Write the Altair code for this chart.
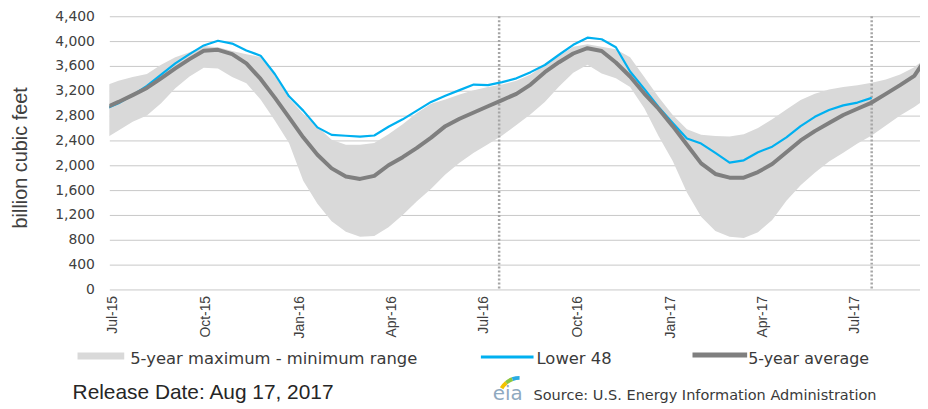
import datetime as dt
import altair as alt
import pandas as pd

# ---------------- data (billion cubic feet) ----------------
SERIES_START = "2015-06-23"      # first sample date of the series below
SERIES_STEP_DAYS = 14            # one sample every two weeks

RANGE_MAX = [3280, 3360, 3420, 3470, 3620, 3740, 3820, 3920, 3900, 3840,
             3790, 3745, 3450, 3080, 2830, 2620, 2410, 2330, 2330, 2360,
             2500, 2660, 2840, 2990, 3060, 3140, 3210, 3260, 3300, 3360,
             3460, 3620, 3760, 3910, 3950, 3910, 3870, 3740, 3420, 3100,
             2810, 2580, 2490, 2470, 2465, 2500, 2600, 2740, 2900, 3050,
             3150, 3220, 3260, 3290, 3330, 3380, 3460, 3580, 3760]

RANGE_MIN = [2420, 2560, 2700, 2800, 3000, 3240, 3430, 3570, 3560, 3420,
             3320, 3060, 2720, 2360, 1750, 1380, 1100, 930, 850, 860,
             1000, 1200, 1420, 1620, 1850, 2040, 2200, 2340, 2480, 2650,
             2820, 3020, 3270, 3490, 3620, 3480, 3400, 3260, 2920, 2470,
             2070, 1560, 1170, 940, 850, 830, 920, 1120, 1430, 1680,
             1880, 2060, 2200, 2350, 2480, 2640, 2800, 2940, 3100]

AVG_5YR = [2920, 3020, 3130, 3245, 3400, 3560, 3710, 3845, 3860, 3790,
           3640, 3390, 3090, 2770, 2450, 2170, 1950, 1820, 1780, 1830,
           2000, 2130, 2280, 2445, 2630, 2750, 2850, 2950, 3050, 3150,
           3300, 3500, 3660, 3800, 3885, 3840, 3655, 3430, 3155, 2910,
           2630, 2330, 2030, 1860, 1800, 1800, 1890, 2020, 2210, 2400,
           2550, 2680, 2810, 2910, 3010, 3150, 3290, 3440, 3780]

LOWER_48 = [2900, 3000, 3130, 3280, 3460, 3640, 3790, 3930, 4005, 3960,
            3850, 3765, 3470, 3110, 2880, 2610, 2490, 2475, 2460, 2480,
            2620, 2740, 2880, 3020, 3120, 3210, 3300, 3290, 3340, 3400,
            3500, 3615, 3780, 3940, 4055, 4030, 3900, 3510, 3230, 2940,
            2680, 2430, 2350, 2200, 2043, 2080, 2210, 2300, 2450, 2630,
            2780, 2890, 2965, 3010, 3085]

MARKER_DATES = ["2016-07-16", "2017-07-18"]          # dotted vertical markers

TICK_DATES = ["2015-07-01", "2015-10-01", "2016-01-01", "2016-04-01", "2016-07-01",
              "2016-10-01", "2017-01-01", "2017-04-01", "2017-07-01"]
TICK_LABELS = ["Jul-15", "Oct-15", "Jan-16", "Apr-16", "Jul-16",
               "Oct-16", "Jan-17", "Apr-17", "Jul-17"]
X_DOMAIN = ["2015-06-28T00:00:00Z", "2017-09-03T14:24:00Z"]
Y_TICKS = [0, 400, 800, 1200, 1600, 2000, 2400, 2800, 3200, 3600, 4000, 4400]

Y_TITLE = "billion cubic feet"
LEGEND_LABELS = ["5-year maximum - minimum range", "Lower 48", "5-year average"]
RELEASE_TEXT = "Release Date:  Aug 17, 2017"
SOURCE_TEXT = "Source:  U.S. Energy  Information Administration"
LOGO_TEXT = "eia"

# ---------------- styles ----------------
BAND_COLOR = "#d9d9d9"
L48_COLOR = "#00b0f0"
AVG_COLOR = "#7f7f7f"
TEXT_COLOR = "#404040"


def to_ms(s):
    d = dt.datetime.fromisoformat(s)
    if d.tzinfo is None:
        d = d.replace(tzinfo=dt.timezone.utc)
    return int(d.timestamp() * 1000)


start = dt.date.fromisoformat(SERIES_START)
dates = [(start + dt.timedelta(days=SERIES_STEP_DAYS * i)).isoformat()
         for i in range(len(RANGE_MAX))]

band_df = pd.DataFrame({"date": dates, "mx": RANGE_MAX, "mn": RANGE_MIN, "avg": AVG_5YR})
l48_df = pd.DataFrame({"date": dates[:len(LOWER_48)], "l48": LOWER_48})
marker_df = pd.DataFrame({"date": MARKER_DATES})

tick_ms = [to_ms(d) for d in TICK_DATES]
label_expr = "[{}][indexof([{}], time(datum.value))]".format(
    ",".join("'{}'".format(t) for t in TICK_LABELS),
    ",".join(str(t) for t in tick_ms))

x_enc = alt.X(
    "date:T",
    scale=alt.Scale(type="utc", domain=[to_ms(X_DOMAIN[0]), to_ms(X_DOMAIN[1])]),
    axis=alt.Axis(values=tick_ms, labelExpr=label_expr, labelAngle=270,
                  labelFont="Liberation Sans", labelFontSize=14, labelColor=TEXT_COLOR,
                  labelPadding=6, ticks=False, tickSize=0, domain=False, grid=False,
                  labelOverlap=False, labelFlush=False, labelBound=False, title=""),
)

y_scale = alt.Scale(domain=[0, 4400], nice=False, zero=True)
y_axis = alt.Axis(values=Y_TICKS, format=",.0f", labelFont="DejaVu Sans", labelFontSize=14,
                  labelColor=TEXT_COLOR, labelPadding=15, ticks=False, tickSize=0,
                  domain=False, grid=True, gridColor="#c8c8c8", gridWidth=1,
                  title=Y_TITLE, titleFont="Liberation Sans", titleFontSize=20,
                  titleFontWeight="normal", titleColor=TEXT_COLOR, titleAngle=270,
                  titleX=-89, titleY=142, titleAlign="center", titleBaseline="middle")

band = alt.Chart(band_df).mark_area(color=BAND_COLOR, clip=True).encode(
    x=x_enc, y=alt.Y("mx:Q", scale=y_scale, axis=y_axis), y2="mn:Q")

markers = alt.Chart(marker_df).mark_rule(color="#a6a6a6", strokeWidth=2.5,
                                         strokeDash=[2, 2]).encode(x=x_enc)

l48 = alt.Chart(l48_df).mark_line(color=L48_COLOR, strokeWidth=2.2, clip=True,
                                  strokeJoin="round").encode(
    x=x_enc, y=alt.Y("l48:Q", scale=y_scale, axis=y_axis))

avg = alt.Chart(band_df).mark_line(color=AVG_COLOR, strokeWidth=4, clip=True,
                                   strokeJoin="round").encode(
    x=x_enc, y=alt.Y("avg:Q", scale=y_scale, axis=y_axis))

one = pd.DataFrame({"k": [0]})


def swatch(x1, x2, y, color, width):
    return alt.Chart(one).mark_rule(color=color, strokeWidth=width).encode(
        x=alt.value(x1), x2=alt.value(x2), y=alt.value(y))


def text(t, x, y, font, size, color, **kw):
    return alt.Chart(pd.DataFrame({"t": [t]})).mark_text(
        align="left", baseline="alphabetic", font=font, fontSize=size, color=color, **kw
    ).encode(x=alt.value(x), y=alt.value(y), text="t:N")


legend_font = "DejaVu Sans"
deco = [
    swatch(-32, 15, 342, BAND_COLOR, 7),
    text(LEGEND_LABELS[0], 21, 350, legend_font, 16.5, "#3a3a3a"),
    swatch(374, 427, 343, L48_COLOR, 3),
    text(LEGEND_LABELS[1], 430, 350, legend_font, 16.5, "#3a3a3a"),
    swatch(587, 642, 341, AVG_COLOR, 5),
    text(LEGEND_LABELS[2], 643, 350, legend_font, 16, "#3a3a3a"),
    text(RELEASE_TEXT, -37, 385, "Liberation Sans", 21, "#262626"),
    text(LOGO_TEXT, 386, 386, "DejaVu Sans", 20, "#8fa9bf"),
    text(SOURCE_TEXT, 427, 386, "DejaVu Sans", 14.6, "#3a3a3a"),
]
arc_colors = ["#f2c200", "#8dc63f", "#29abe2"]
arc_angles = [5.24, 5.59, 5.93, 6.28]
for i, c in enumerate(arc_colors):
    deco.append(alt.Chart(one).mark_arc(theta=arc_angles[i], theta2=arc_angles[i + 1],
                                         radius=23, radius2=19, color=c).encode(
        x=alt.value(413), y=alt.value(385)))

chart = alt.layer(band, markers, l48, avg, *deco).properties(
    width=816, height=275,
    autosize=alt.AutoSizeParams(type="none"),
    padding={"left": 102, "top": 7, "right": 0, "bottom": 115},
    background="white",
).configure_view(strokeWidth=0)

chart.save("out.html", embed_options={"renderer": "svg", "actions": False})
